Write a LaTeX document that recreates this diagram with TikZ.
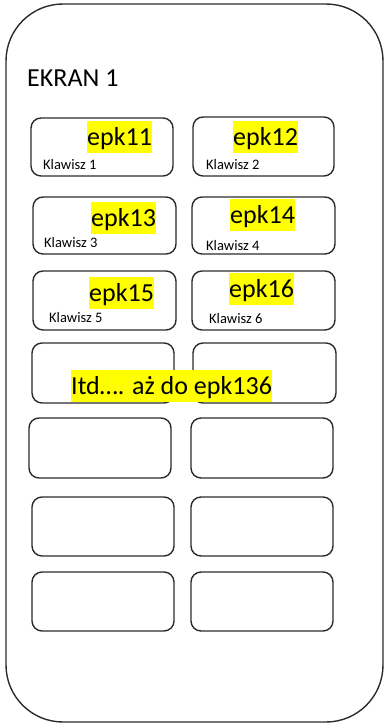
\documentclass[tikz,border=0pt]{standalone}
\usepackage{fontspec}
\setmainfont{Carlito}
\usetikzlibrary{fit}
\definecolor{hl}{HTML}{FFFF00}
\definecolor{edge}{HTML}{2B2B2B}
\tikzset{
  outerbox/.style={draw=edge, line width=1.4pt, rounded corners=57pt, inner sep=0pt},
  keybox/.style={draw=edge, line width=1.4pt, rounded corners=10pt, inner sep=0pt},
  hltext/.style={fill=hl, inner xsep=0pt, inner ysep=0pt, anchor=north west,
    font=\fontsize{26}{30}\selectfont, text height=24.5pt, text depth=7pt},
  keylabel/.style={inner sep=0pt, anchor=base west, font=\fontsize{14.5}{17}\selectfont},
  title/.style={inner sep=0pt, anchor=base west, font=\fontsize{26}{30}\selectfont}
}
\begin{document}
\begin{tikzpicture}[x=1pt,y=-1pt]
\useasboundingbox (0,0) rectangle (385,725);
\node[outerbox, fit={(6,4)(383,722)}] (screen) {};
\node[title] (t) at (27,86) {EKRAN 1};
% keys
\node[keybox, fit={(31,118)(173,176)}] (k1) {};
\node[keybox, fit={(193,117)(334,176)}] (k2) {};
\node[keybox, fit={(33,197)(176,254)}] (k3) {};
\node[keybox, fit={(192,197)(335,254)}] (k4) {};
\node[keybox, fit={(33,271)(176,330)}] (k5) {};
\node[keybox, fit={(192,271)(335,330)}] (k6) {};
\node[keybox, fit={(32,343)(174,403)}] (k7) {};
\node[keybox, fit={(193,343)(336,403)}] (k8) {};
\node[keybox, fit={(29,418)(171,478)}] (k9) {};
\node[keybox, fit={(191,418)(333,478)}] (k10) {};
\node[keybox, fit={(32,497)(174,556)}] (k11) {};
\node[keybox, fit={(191,497)(333,556)}] (k12) {};
\node[keybox, fit={(32,572)(174,631)}] (k13) {};
\node[keybox, fit={(191,572)(333,631)}] (k14) {};
% labels
\node[hltext] (e11) at (87,121) {epk11};
\node[hltext] (e12) at (233,121) {epk12};
\node[hltext] (e13) at (91,202) {epk13};
\node[hltext] (e14) at (230,199) {epk14};
\node[hltext] (e15) at (89,277) {epk15};
\node[hltext] (e16) at (229,273) {epk16};
\node[keylabel] (l1) at (43,169) {Klawisz 1};
\node[keylabel] (l2) at (206,169) {Klawisz 2};
\node[keylabel] (l3) at (44,247) {Klawisz 3};
\node[keylabel] (l4) at (206,250) {Klawisz 4};
\node[keylabel] (l5) at (49,322) {Klawisz 5};
\node[keylabel] (l6) at (209,323) {Klawisz 6};
\node[hltext] (itd) at (71,370) {Itd…. aż do epk136};
\end{tikzpicture}
\end{document}
